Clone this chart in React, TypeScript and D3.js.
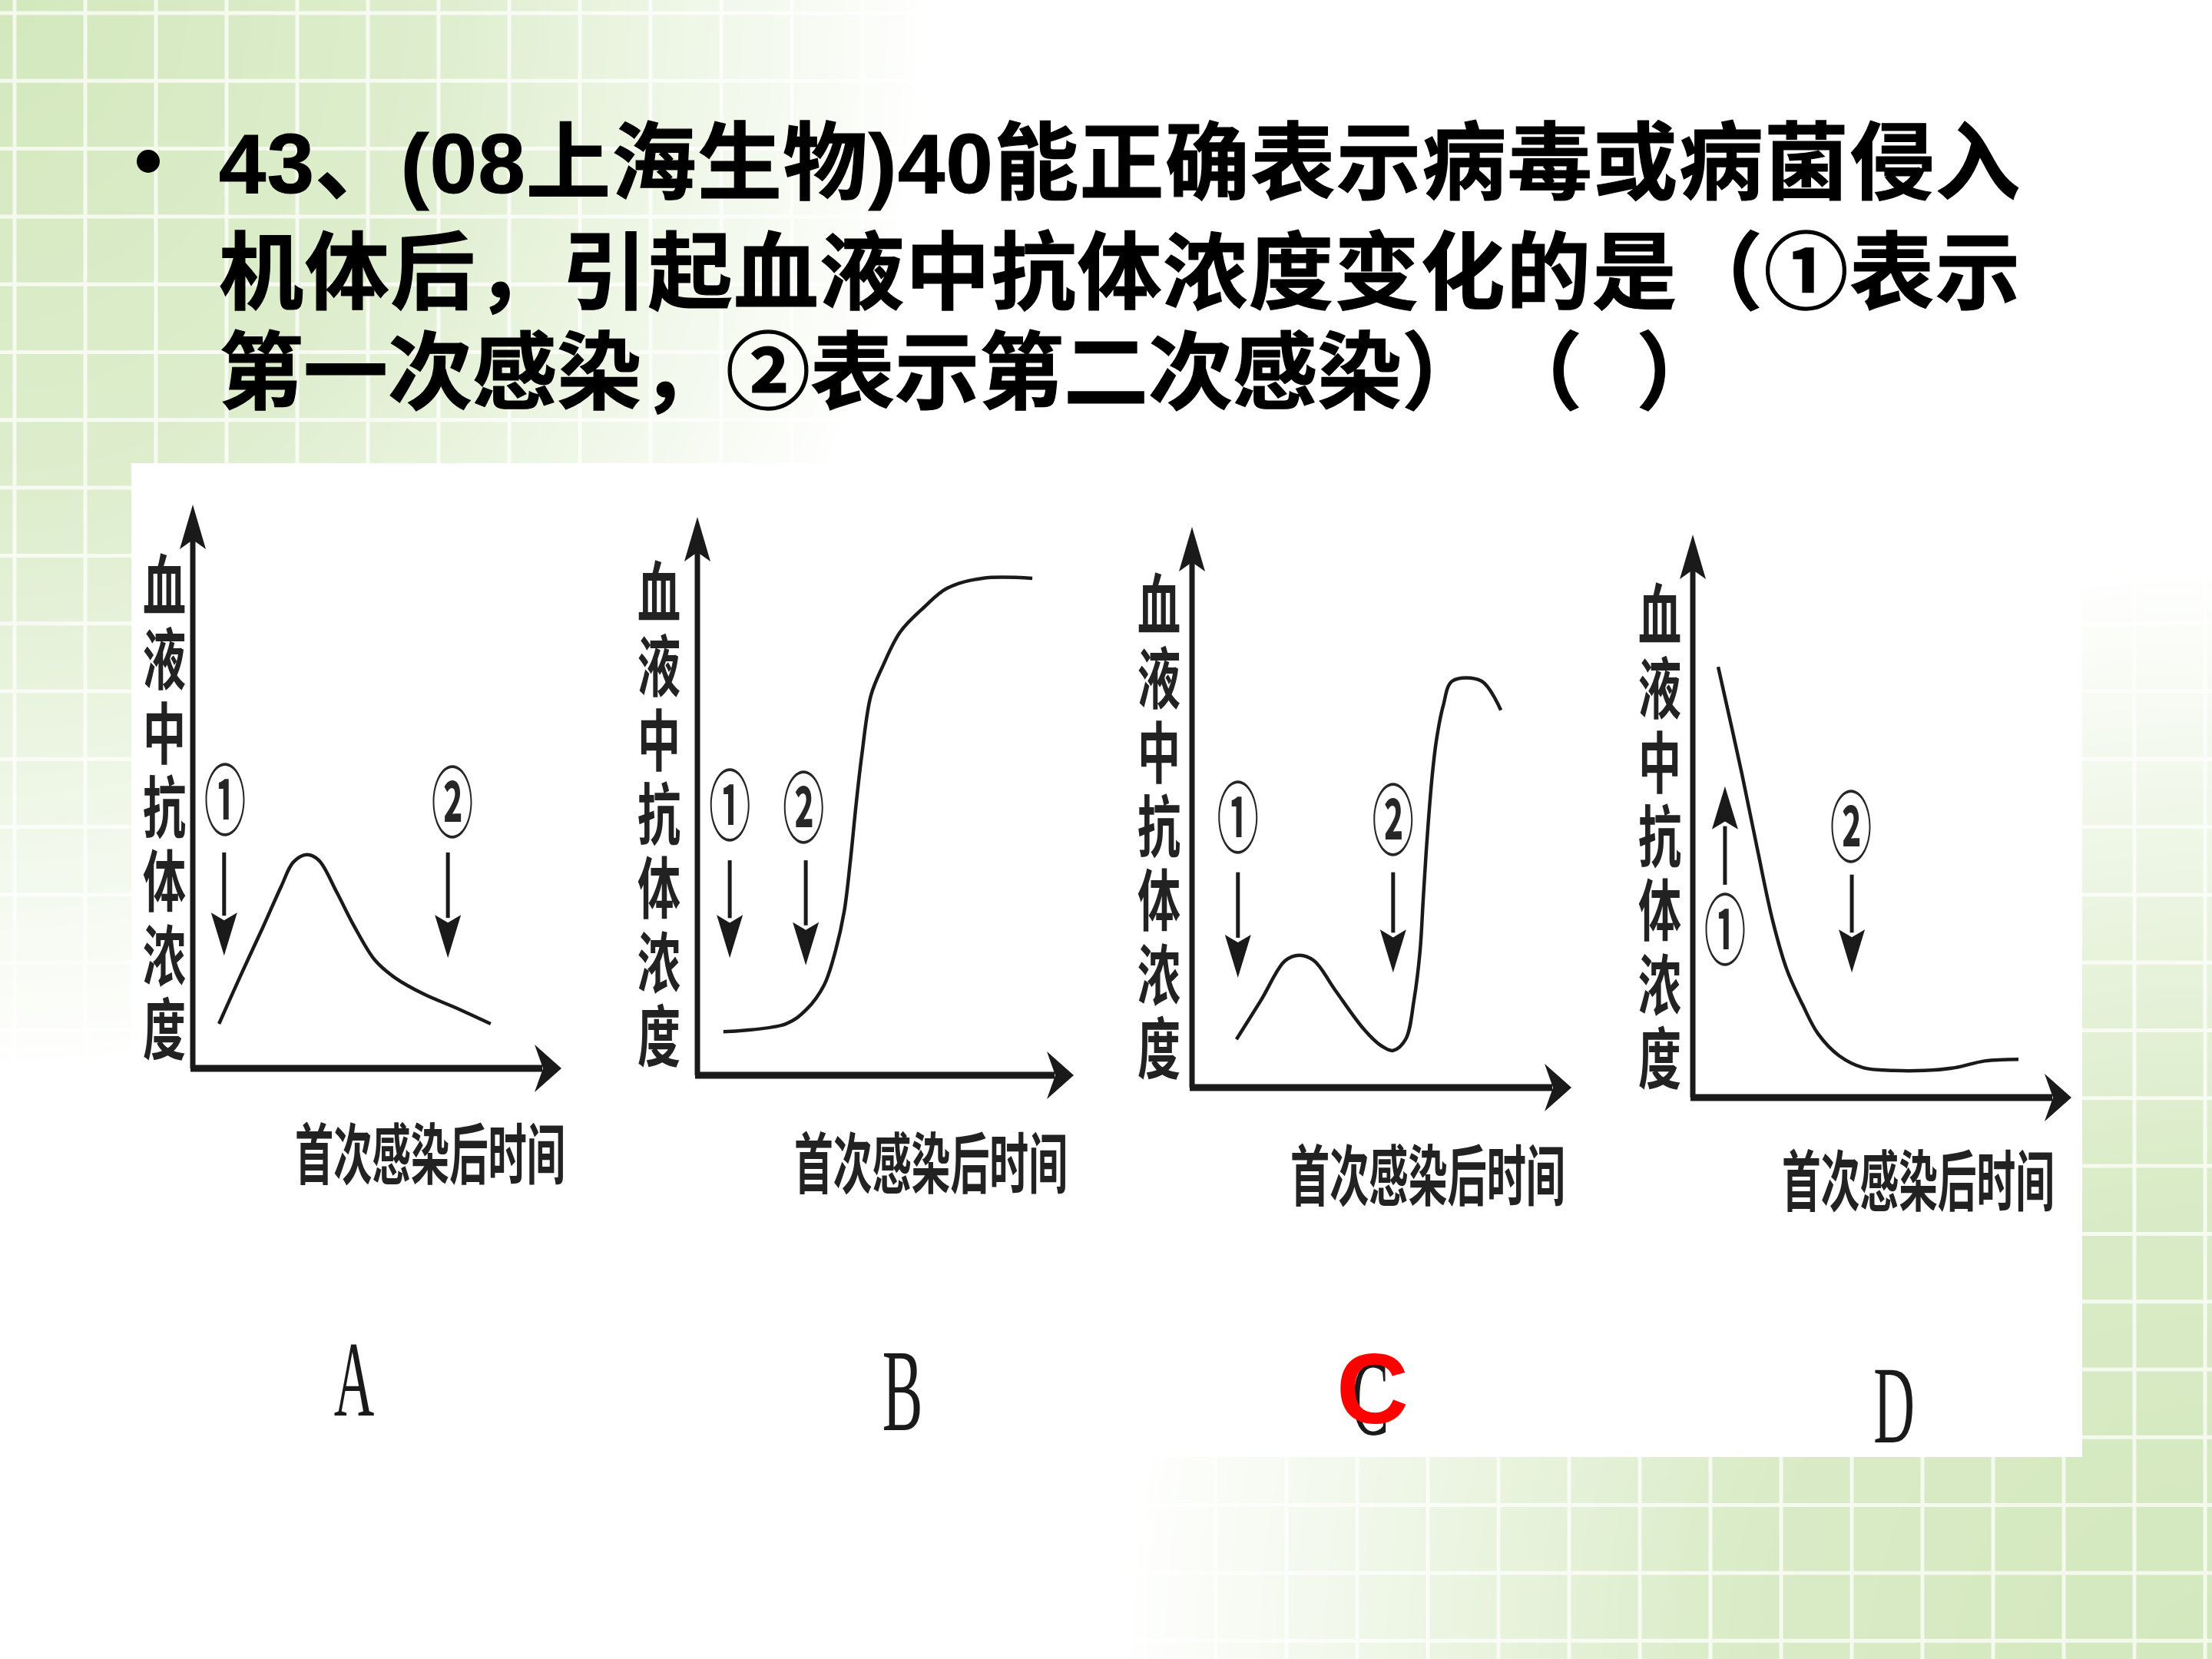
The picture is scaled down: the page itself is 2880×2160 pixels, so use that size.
import React from "react";
import * as d3 from "d3";

const W = 2880;
const H = 2160;

// ---------- text content ----------
const titleLines = [
  "43、(08上海生物)40能正确表示病毒或病菌侵入",
  "机体后，引起血液中抗体浓度变化的是（①表示",
  "第一次感染，②表示第二次感染）",
];
const titleTail = ["（", " ）"];
const yLabel = "血液中抗体浓度";
const xLabel = "首次感染后时间";
const panelNames = ["A", "B", "C", "D"];
const answerName = "C";

// ---------- curves (x: time 0-100, y: antibody level 0-100) ----------
const curveA: [number, number][] = [
  [7.1, 7.9], [13, 16.5], [19, 25], [24, 32.3], [27.3, 36.6], [31, 37.9], [34.2, 36.9],
  [39, 31.3], [43.8, 25.2], [49.4, 19.2], [54.8, 16.1], [62.9, 13.1], [70.8, 10.9], [80.8, 7.9],
];
const curveB: [number, number][] = [
  [6.9, 7.8], [23.5, 9.2], [29.0, 11.8], [33.7, 16.2], [36.7, 22.3], [39.0, 29.3], [40.6, 38.1],
  [42.2, 48.7], [43.7, 57.4], [46.1, 68.0], [49.2, 73.2], [53.9, 79.4], [60.2, 83.8], [66.3, 87.2],
  [75.7, 89.0], [89.0, 89.0],
];
const curveC: [number, number][] = [
  [11.7, 8.6], [18.2, 15.6], [24.5, 22.6], [28.3, 23.6], [32.2, 22.6], [37.7, 17.4], [45.3, 10.4],
  [50, 7.4], [53, 6.6], [56.3, 8.6], [58.5, 15.6], [60.1, 24.4], [60.9, 33.2], [61.7, 41.9],
  [63.2, 54.9], [64.4, 61.9], [66.2, 68.1], [68.6, 72.5], [76.3, 72.5], [81.4, 67.3],
];
const curveD: [number, number][] = [
  [6.7, 76.5], [13.0, 57.4], [17.0, 44.3], [21.1, 31.4], [24.9, 22.6], [29.0, 16.5], [33.1, 11.3],
  [38.7, 7.4], [45.0, 5.3], [53.1, 4.8], [61.1, 4.8], [69.2, 5.3], [77.1, 6.5], [86.0, 6.8],
];

// markers: label, label x, label y, arrow x, arrow start y, arrow tip y
type Marker = [string, number, number, number, number, number];
const markersA: Marker[] = [["①", 8.75, 47.4, 8.5, 38.3, 20.0], ["②", 70.4, 47.0, 69.2, 38.3, 19.6]];
const markersB: Marker[] = [["①", 8.6, 48.1, 8.6, 38.5, 21.0], ["②", 28.2, 47.7, 28.8, 38.5, 19.7]];
const markersC: Marker[] = [["①", 12.1, 47.9, 12.1, 38.4, 19.6], ["②", 53.0, 47.5, 53.0, 38.4, 20.5]];
const markersD: Marker[] = [["①", 8.5, 29.6, 8.5, 37.8, 55.3], ["②", 41.8, 47.9, 42.0, 39.6, 22.2]];

const curves = [curveA, curveB, curveC, curveD];
const markers = [markersA, markersB, markersC, markersD];

// ---------- layout ----------
const panelLayout = [
  { ox: 251, oy: 1391, w: 480, h: 734, ylx: 214, xl0: 384, xl1: 736, xlb: 1541, lx: 461, lb: 1843, ls: 140 },
  { ox: 908, oy: 1400, w: 490, h: 727, ylx: 858, xl0: 1034, xl1: 1390, xlb: 1553, lx: 1175, lb: 1862, ls: 152 },
  { ox: 1552, oy: 1416, w: 494, h: 730, ylx: 1509, xl0: 1680, xl1: 2038, xlb: 1569, lx: 1784, lb: 1868, ls: 140 },
  { ox: 2204, oy: 1429, w: 493, h: 733, ylx: 2161, xl0: 2320, xl1: 2675, xlb: 1576, lx: 2466, lb: 1878, ls: 143 },
];

const INK = "#1a1a1a";
const CJK = "'Noto Sans CJK SC', 'Noto Sans CJK JP', sans-serif";

function vArrow(x: number, y1: number, y2: number, len: number, wid: number) {
  const dir = y2 > y1 ? 1 : -1;
  const base = y2 - dir * len;
  return {
    shaft: `M${x},${y1}L${x},${base + dir * 4}`,
    head: `M${x},${y2}L${x - wid / 2},${base}L${x},${base + dir * len * 0.18}L${x + wid / 2},${base}Z`,
  };
}

function Panel({ idx }: { idx: number }) {
  const L = panelLayout[idx];
  const xs = d3.scaleLinear().domain([0, 100]).range([L.ox, L.ox + L.w]);
  const ys = d3.scaleLinear().domain([0, 100]).range([L.oy, L.oy - L.h]);
  const line = d3
    .line<[number, number]>()
    .x((d) => xs(d[0]))
    .y((d) => ys(d[1]))
    .curve(d3.curveCatmullRom.alpha(0.5));

  const yTipX = xs(0);
  const yTipY = ys(100);
  const xTipX = xs(100);
  const xTipY = ys(0);

  const yTop = L.oy - 670;
  const pitch = 96.4;
  const yfs = 56;
  const ysy = 1.56;

  return (
    <g>
      {/* axes */}
      <line x1={xs(0)} y1={ys(0)} x2={yTipX} y2={yTipY + 40} stroke={INK} strokeWidth={7} />
      <path
        d={`M${yTipX},${yTipY}L${yTipX - 17},${yTipY + 58}L${yTipX},${yTipY + 46}L${yTipX + 17},${yTipY + 58}Z`}
        fill={INK}
      />
      <line x1={xs(0) - 3} y1={ys(0)} x2={xTipX - 25} y2={xTipY} stroke={INK} strokeWidth={9} />
      <path
        d={`M${xTipX},${xTipY}L${xTipX - 35},${xTipY - 31}L${xTipX - 24},${xTipY}L${xTipX - 35},${xTipY + 31}Z`}
        fill={INK}
      />

      {/* curve */}
      <path d={line(curves[idx]) || ""} fill="none" stroke={INK} strokeWidth={4.5} strokeLinejoin="round" />

      {/* markers */}
      {markers[idx].map((m, i) => {
        const a = vArrow(xs(m[3]), ys(m[4]), ys(m[5]), 56, 34);
        const cx = xs(m[1]);
        const cy = ys(m[2]);
        return (
          <g key={i}>
            <path d={a.shaft} stroke={INK} strokeWidth={5} fill="none" />
            <path d={a.head} fill={INK} />
            <text
              transform={`translate(${cx},${cy + 0.36 * 54 * 1.85}) scale(1,1.85)`}
              textAnchor="middle"
              fontFamily={CJK}
              fontWeight={700}
              fontSize={54}
              fill="#262626"
            >
              {m[0]}
            </text>
          </g>
        );
      })}

      {/* y label (vertical writing) */}
      <text
        transform={`translate(${L.ylx},${yTop - 3}) scale(1,${ysy})`}
        x={0}
        y={0}
        fontFamily={CJK}
        fontWeight={700}
        fontSize={yfs}
        letterSpacing={pitch / ysy - yfs}
        fill="#222"
        style={{ writingMode: "vertical-rl" as any }}
      >
        {yLabel}
      </text>

      {/* x label */}
      <text
        transform={`translate(${L.xl0},${L.xlb - 6}) scale(1,1.72)`}
        fontFamily={CJK}
        fontWeight={700}
        fontSize={50}
        textLength={L.xl1 - L.xl0}
        lengthAdjust="spacingAndGlyphs"
        fill="#222"
      >
        {xLabel}
      </text>

      {/* panel letter */}
      <text
        transform={`translate(${L.lx},${L.lb}) scale(0.52,1)`}
        textAnchor="middle"
        fontFamily="'Liberation Serif', serif"
        fontSize={L.ls}
        fill="#1a1a1a"
      >
        {panelNames[idx]}
      </text>
      {panelNames[idx] === answerName && (
        <text
          x={L.lx + 3}
          y={L.lb - 15}
          textAnchor="middle"
          fontFamily="'Liberation Sans', Arial, sans-serif"
          fontWeight={700}
          fontSize={130}
          fill="#ff0000"
        >
          {answerName}
        </text>
      )}
    </g>
  );
}

export default function App() {
  const gridX = d3.range(19, W, 92);
  const gridY = d3.range(17, H, 88.3);
  const titleFont = "'Liberation Sans', 'Noto Sans CJK SC', sans-serif";
  const baselines = [251, 394, 524];
  return (
    <svg width={W} height={H} viewBox={`0 0 ${W} ${H}`} style={{ display: "block", position: "absolute", left: 0, top: 0 }}>
      <defs>
        <radialGradient id="gTL" cx={0} cy={0} r={1500} gradientUnits="userSpaceOnUse" gradientTransform="scale(0.95,1.1)">
          <stop offset="0" stopColor="#fff" stopOpacity={1} />
          <stop offset="0.4" stopColor="#fff" stopOpacity={0.75} />
          <stop offset="0.85" stopColor="#fff" stopOpacity={0} />
        </radialGradient>
        <radialGradient id="gBR" cx={2880} cy={2160} r={1780} gradientUnits="userSpaceOnUse">
          <stop offset="0" stopColor="#fff" stopOpacity={1} />
          <stop offset="0.35" stopColor="#fff" stopOpacity={0.85} />
          <stop offset="0.8" stopColor="#fff" stopOpacity={0} />
        </radialGradient>
        <mask id="greenMask">
          <rect x={0} y={0} width={W} height={H} fill="#000" />
          <rect x={0} y={0} width={W} height={H} fill="url(#gTL)" />
          <rect x={0} y={0} width={W} height={H} fill="url(#gBR)" />
        </mask>
      </defs>

      {/* background */}
      <rect x={0} y={0} width={W} height={H} fill="#ffffff" />
      <g mask="url(#greenMask)">
        <rect x={0} y={0} width={W} height={H} fill="#d3e8bd" />
        {gridX.map((x) => (
          <line key={"gx" + x} x1={x} y1={0} x2={x} y2={H} stroke="#f4f9ec" strokeWidth={5} />
        ))}
        {gridY.map((y) => (
          <line key={"gy" + y} x1={0} y1={y} x2={W} y2={y} stroke="#f4f9ec" strokeWidth={5} />
        ))}
      </g>

      {/* title */}
      <circle cx={193} cy={210} r={15} fill="#000" />
      {titleLines.map((t, i) => (
        <text
          key={i}
          x={285}
          y={baselines[i]}
          fontFamily={titleFont}
          fontWeight={700}
          fontSize={110}
          fill="#000"
          stroke="#000"
          strokeWidth={1.2}
          textLength={i < 2 ? 2345 : undefined}
          lengthAdjust="spacing"
        >
          {t}
          {i === 2 && (
            <>
              <tspan x={1950}>{titleTail[0]}</tspan>
              <tspan x={2100}>{titleTail[1]}</tspan>
            </>
          )}
        </text>
      ))}

      {/* picture box */}
      <rect x={171} y={603} width={2540} height={1294} fill="#ffffff" />

      {panelLayout.map((_, i) => (
        <Panel key={i} idx={i} />
      ))}
    </svg>
  );
}
